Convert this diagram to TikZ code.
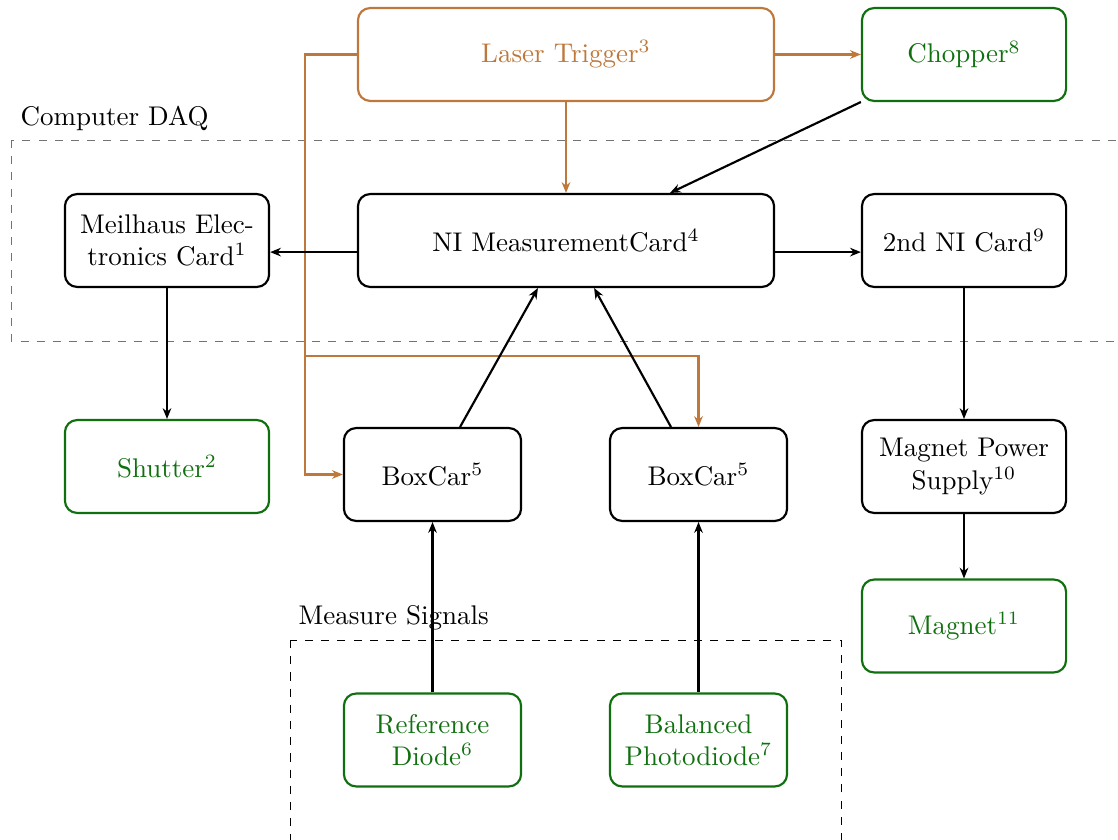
\documentclass[tikz,border=0pt]{standalone}
\usetikzlibrary{arrows.meta}
\definecolor{trig}{RGB}{190,120,60}
\definecolor{dev}{RGB}{16,112,16}
\begin{document}
\begin{tikzpicture}[x=0.37037pt,y=-0.37037pt,
 box/.style={draw, thick, rounded corners=4.5pt, minimum height=34.4pt, align=center, inner sep=2pt},
 wide/.style={minimum width=154.1pt},
 mid/.style={minimum width=75.6pt},
 narrow/.style={minimum width=65.6pt},
 trigbox/.style={box, draw=trig, text=trig},
 devbox/.style={box, draw=dev, text=dev},
 conn/.style={thick, -{Stealth[length=4pt,width=3.2pt]}},
 tconn/.style={conn, draw=trig},
 group/.style={draw, line width=0.35pt, dashed},
 grouplabel/.style={anchor=base west, inner sep=0pt}]
\clip (0,0) rectangle (1118,840);

% groups
\draw[group, draw=black!55] (11,140) rectangle (1140,341);
\node[grouplabel] (daq) at (20,126) {Computer DAQ};
\draw[group] (290,640) rectangle (841,870);
\node[grouplabel] (ms) at (298,624) {Measure Signals};

% nodes
\node[trigbox, wide] (laser) at (566,54.5) {Laser Trigger$^3$};
\node[devbox, mid] (chop) at (964,54.5) {Chopper$^8$};
\node[box, mid] (meil) at (167,240.5) {Meilhaus Elec-\\tronics Card$^1$};
\node[box, wide] (ni) at (566,240.5) {NI MeasurementCard$^4$};
\node[box, mid] (ni2) at (964,240.5) {2nd NI Card$^9$};
\node[devbox, mid] (shut) at (167,466.5) {Shutter$^2$};
\node[box, narrow] (bc1) at (432.5,474.5) {BoxCar$^5$};
\node[box, narrow] (bc2) at (698.5,474.5) {BoxCar$^5$};
\node[box, mid] (mps) at (964,466.5) {Magnet Power\\Supply$^{10}$};
\node[devbox, mid] (mag) at (964,626) {Magnet$^{11}$};
\node[devbox, narrow] (rd) at (432.5,740) {Reference\\Diode$^6$};
\node[devbox, narrow] (bpd) at (698.5,740) {Balanced\\Photodiode$^7$};

% trigger connections
\coordinate (tl) at (305,54.5);
\coordinate (tb) at (305,356);
\coordinate (tr) at (698.5,356);
\draw[tconn] (laser.west) -- (tl) -- (tl |- bc1.west) -- (bc1.west);
\draw[tconn] (tb) -- (tr) -- (bc2.north);
\draw[tconn] (laser.south) -- (ni.north);
\draw[tconn] (laser.east) -- (chop.west);

% signal connections
\draw[conn] (chop.south west) -- ([xshift=38.5pt]ni.north);
\draw[conn] ([yshift=-4.3pt]ni.west) -- ([yshift=-4.3pt]ni.west -| meil.east);
\draw[conn] ([yshift=-4.3pt]ni.east) -- ([yshift=-4.3pt]ni.east -| ni2.west);
\draw[conn] (meil.south) -- (shut.north);
\draw[conn] ([xshift=10.2pt]bc1.north) -- ([xshift=-10.4pt]ni.south);
\draw[conn] ([xshift=-10.2pt]bc2.north) -- ([xshift=10.4pt]ni.south);
\draw[conn] (ni2.south) -- (mps.north);
\draw[conn] (mps.south) -- (mag.north);
\draw[conn] (rd.north) -- (bc1.south);
\draw[conn] (bpd.north) -- (bc2.south);
\end{tikzpicture}
\end{document}
